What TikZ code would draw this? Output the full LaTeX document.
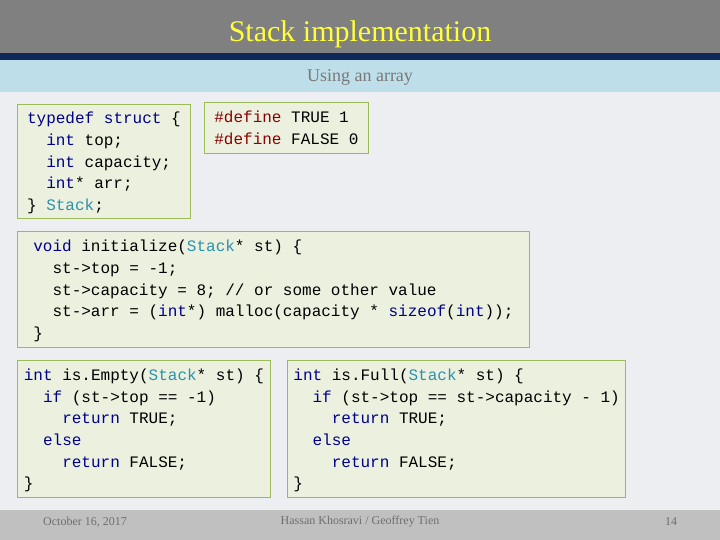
\documentclass[tikz,border=0pt]{standalone}
\usepackage{fontspec}
\setmainfont{Liberation Serif}
\setmonofont{Liberation Mono}
\definecolor{kw}{RGB}{0,0,140}
\definecolor{ty}{RGB}{43,145,175}
\definecolor{pp}{RGB}{140,0,0}
\definecolor{boxfill}{RGB}{235,241,222}
\definecolor{boxline}{RGB}{155,187,89}
\definecolor{bg}{RGB}{237,238,242}
\definecolor{hdr}{RGB}{128,128,128}
\definecolor{hline}{RGB}{15,40,90}
\definecolor{band}{RGB}{190,223,234}
\definecolor{ftr}{RGB}{192,192,192}
\definecolor{ttl}{RGB}{255,255,60}
\definecolor{subc}{RGB}{120,120,120}
\definecolor{ftxt}{RGB}{110,110,110}
\newcommand{\cK}[1]{\textcolor{kw}{#1}}
\newcommand{\cT}[1]{\textcolor{ty}{#1}}
\newcommand{\cP}[1]{\textcolor{pp}{#1}}
\begin{document}
\begin{tikzpicture}[x=1pt,y=-1pt,
  code/.style={draw=boxline,fill=boxfill,line width=0.8pt,anchor=north west,align=left,
    font=\ttfamily\fontsize{16}{21.7}\selectfont,inner xsep=6pt,inner ysep=4pt,text depth=0pt}]
\useasboundingbox (0,0) rectangle (720,540);
\fill[bg] (0,0) rectangle (720,540);
\fill[hdr] (0,0) rectangle (720,53);
\fill[hline] (0,53) rectangle (720,60);
\fill[band] (0,60) rectangle (720,92);
\fill[ftr] (0,510) rectangle (720,540);
\node[text=ttl,font=\fontsize{30}{34}\selectfont] (title) at (360,34) {Stack implementation};
\node[text=subc,font=\fontsize{18}{20}\selectfont] (sub) at (360,77) {Using an array};
\node[code,minimum width=173pt,minimum height=114pt] (b1) at (17,104) {\cK{typedef} \cK{struct} \{\\
\ \ \cK{int} top;\\
\ \ \cK{int} capacity;\\
\ \ \cK{int}* arr;\\
\} \cT{Stack};};
\node[code,minimum width=164pt,minimum height=51pt] (b2) at (204,102) {\cP{\#define} TRUE 1\\
\cP{\#define} FALSE 0};
\node[code,minimum width=512pt,minimum height=116pt] (b3) at (17,231) {\cK{void} initialize(\cT{Stack}* st) \{\\
\ \ st->top = -1;\\
\ \ st->capacity = 8; // or some other value\\
\ \ st->arr = (\cK{int}*) malloc(capacity * \cK{sizeof}(\cK{int}));\\
\}};
\node[code,minimum width=253pt,minimum height=137pt] (b4) at (17,360) {\cK{int} is.Empty(\cT{Stack}* st) \{\\
\ \ \cK{if} (st->top == -1)\\
\ \ \ \ \cK{return} TRUE;\\
\ \ \cK{else}\\
\ \ \ \ \cK{return} FALSE;\\
\}};
\node[code,minimum width=325pt,minimum height=137pt] (b5) at (287,360) {\cK{int} is.Full(\cT{Stack}* st) \{\\
\ \ \cK{if} (st->top == st->capacity - 1)\\
\ \ \ \ \cK{return} TRUE;\\
\ \ \cK{else}\\
\ \ \ \ \cK{return} FALSE;\\
\}};
\tikzset{foot/.style={text=ftxt,font=\fontsize{12}{14}\selectfont}}
\node[foot] (date) at (85,522) {October 16, 2017};
\node[foot] (auth) at (360,522) {Hassan Khosravi / Geoffrey Tien};
\node[foot] (pg) at (671,522) {14};
\end{tikzpicture}
\end{document}
